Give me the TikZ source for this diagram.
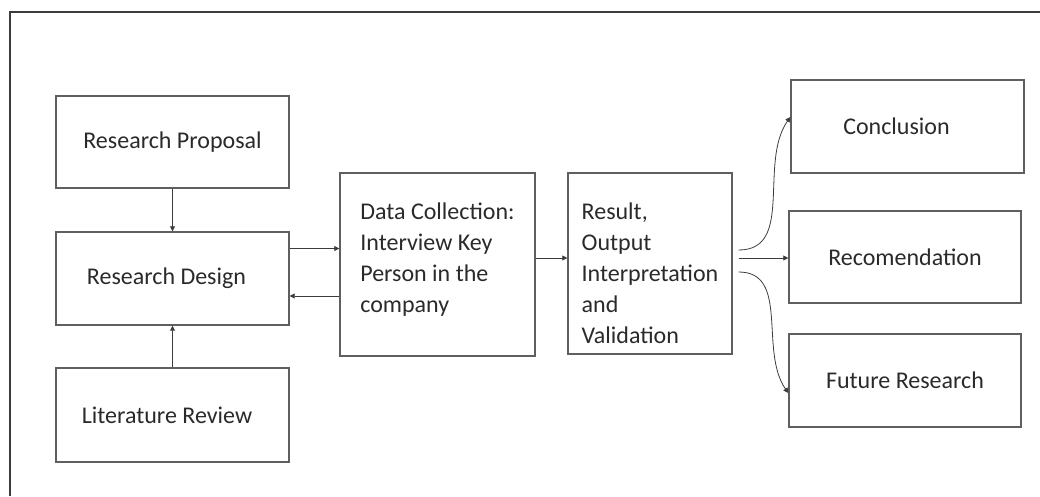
\documentclass[tikz,border=0pt]{standalone}
\usepackage{fontspec}
\setmainfont{Carlito}
\usepackage{tikz}
\usetikzlibrary{arrows.meta}
\usepackage{xcolor}
\definecolor{box_grey}{HTML}{5f5f5f}
\definecolor{line_grey}{HTML}{3c3c3c}
\definecolor{text_grey}{HTML}{2a2a2a}

\begin{document}
\begin{tikzpicture}[x=1pt, y=1pt,
	box/.style={draw=box_grey, line width=1.4pt, text=text_grey, align=left, inner sep=0pt, font=\fontsize{24}{31}\selectfont},
	arr/.style={draw=line_grey, line width=0.8pt, -{Triangle[length=5pt, width=5pt]}}]
	\useasboundingbox (0, 0) rectangle (1040, -496);
	\draw[line_grey, line width=1.2pt] (10, -496) -- (10, -12) -- (1040, -12);
	\node[box, minimum width=233, minimum height=92] (rp) at (172.5, -142) {Research Proposal};
	\node[box, minimum width=233, minimum height=93] (rd) at (172.5, -278.5) {Research Design\hspace{12pt}};
	\node[box, minimum width=233, minimum height=94] (lr) at (172.5, -415) {Literature Review\hspace{11pt}};
	\node[box, minimum width=195, minimum height=183] (dc) at (437.5, -264.5) {Data Collection:\\Interview Key\\Person in the\\company\rule[-13pt]{0pt}{0pt}};
	\node[box, minimum width=164, minimum height=181] (res) at (650, -263.5) {\rule{0pt}{37pt}Result,\\Output\\Interpretation\\and\\Validation};
	\node[box, minimum width=233, minimum height=93] (con) at (907.5, -126.5) {Conclusion\hspace{22pt}};
	\node[box, minimum width=232, minimum height=92] (rec) at (905, -257) {Recomendation};
	\node[box, minimum width=232, minimum height=93] (fut) at (905, -380.5) {Future Research};
	\draw[arr] (rp.south) -- (rd.north);
	\draw[arr] (lr.north) -- (rd.south);
	\draw[arr] ([yshift=30pt]rd.east) -- ([yshift=16pt]dc.west);
	\draw[arr] ([yshift=-31.5pt]dc.west) -- ([yshift=-17.5pt]rd.east);
	\draw[arr] ([yshift=6.5pt]dc.east) -- ([yshift=5.5pt]res.west);
	\draw[arr] ([xshift=6pt, yshift=13.5pt]res.east) to[out=0, in=235] ([yshift=9.5pt]con.west);
	\draw[arr] ([xshift=6pt, yshift=5.5pt]res.east) -- ([yshift=-1pt]rec.west);
	\draw[arr] ([xshift=6pt, yshift=-8.5pt]res.east) to[out=0, in=125] ([yshift=-12.5pt]fut.west);
\end{tikzpicture}
\end{document}
